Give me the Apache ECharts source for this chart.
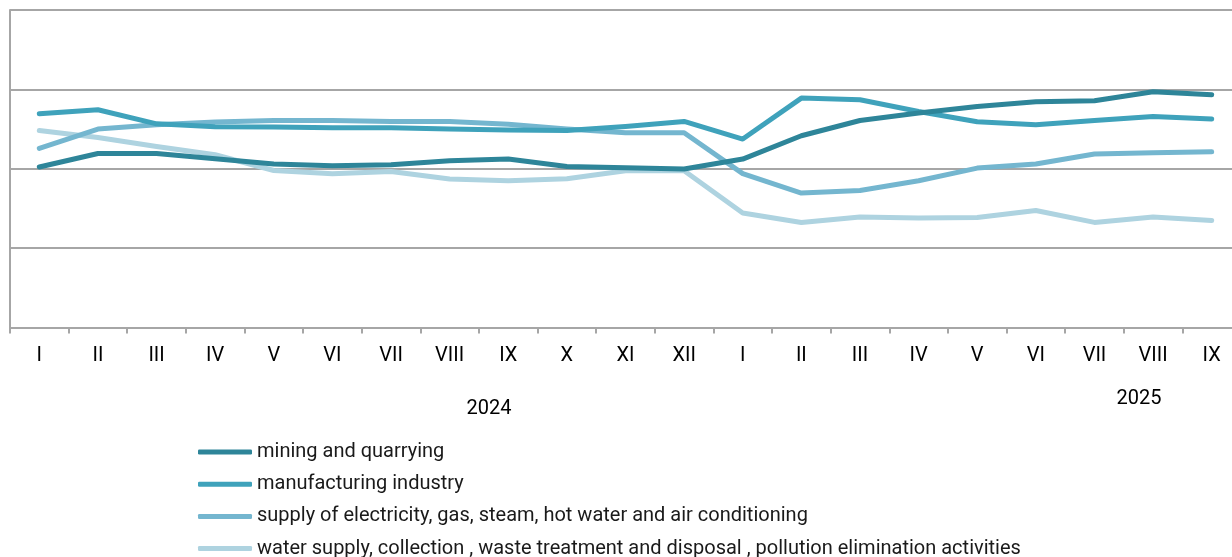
<!DOCTYPE html>
<html>
<head>
<meta charset="utf-8">
<script src="https://cdn.jsdelivr.net/npm/echarts@6/dist/echarts.min.js"></script>
<style>
html,body{margin:0;padding:0;background:#fff;}
#chart{width:1232px;height:557px;}
</style>
</head>
<body>
<div id="chart"></div>
<script>
const months = ['I','II','III','IV','V','VI','VII','VIII','IX','X','XI','XII','I','II','III','IV','V','VI','VII','VIII','IX'];
const yearLabels = ['2024','2025'];
const seriesNames = [
  'mining and quarrying',
  'manufacturing industry',
  'supply of electricity, gas, steam, hot water and air conditioning',
  'water supply, collection , waste treatment and disposal , pollution elimination activities'
];
const mining = [100.11,100.96,100.96,100.63,100.30,100.19,100.25,100.50,100.61,100.14,100.06,99.98,100.61,102.08,103.04,103.51,103.92,104.22,104.28,104.85,104.66];
const manufacturing = [103.46,103.72,102.83,102.64,102.63,102.58,102.58,102.50,102.44,102.41,102.66,102.98,101.87,104.45,104.35,103.61,102.96,102.77,103.04,103.29,103.13];
const electricity = [101.28,102.50,102.77,102.94,103.04,103.04,102.98,102.98,102.81,102.50,102.27,102.27,99.69,98.47,98.63,99.24,100.04,100.30,100.93,101.01,101.07];
const water = [102.41,101.97,101.40,100.88,99.89,99.69,99.83,99.35,99.24,99.37,99.87,99.87,97.21,96.62,96.96,96.90,96.93,97.37,96.62,96.96,96.74];

const colors = ['#2e8599','#3fa2bb','#74b6cf','#aed3e0'];
const dataSets = [mining, manufacturing, electricity, water];
const font = 'Roboto, "Liberation Sans", sans-serif';

const chart = echarts.init(document.getElementById('chart'));
chart.setOption({
  animation: false,
  color: colors,
  grid: {left: 10, width: 1231, top: 10, height: 317.5, containLabel: false, outerBoundsMode: 'none'},
  legend: {
    orient: 'vertical',
    left: 198,
    top: 442,
    height: 300,
    padding: 0,
    itemWidth: 54,
    itemHeight: 5,
    itemGap: 12.2,
    icon: 'roundRect',
    textStyle: {fontFamily: font, fontSize: 20, color: '#1a1a1a'},
    data: seriesNames
  },
  xAxis: {
    type: 'category',
    data: months,
    boundaryGap: true,
    axisLine: {lineStyle: {color: '#a6a6a6', width: 2}},
    axisTick: {show: true, length: 6, lineStyle: {color: '#a6a6a6', width: 2}},
    axisLabel: {color: '#000', fontFamily: font, fontSize: 20, margin: 18, interval: 0}
  },
  yAxis: {
    type: 'value',
    min: 90, max: 110, interval: 5,
    axisLine: {show: true, lineStyle: {color: '#a6a6a6', width: 2}},
    axisTick: {show: false},
    axisLabel: {show: false},
    splitLine: {lineStyle: {color: '#a6a6a6', width: 2}}
  },
  graphic: [
    {type: 'text', x: 489, y: 409, style: {text: yearLabels[0], font: '20px ' + font, fill: '#000', textAlign: 'center', textVerticalAlign: 'middle'}},
    {type: 'text', x: 1139, y: 399, style: {text: yearLabels[1], font: '20px ' + font, fill: '#000', textAlign: 'center', textVerticalAlign: 'middle'}}
  ],
  series: seriesNames.map((n, i) => ({
    name: n,
    type: 'line',
    data: dataSets[i],
    symbol: 'none',
    lineStyle: {width: 5, color: colors[i], cap: 'round', join: 'round'},
    z: 10 - i
  }))
});
</script>
</body>
</html>
